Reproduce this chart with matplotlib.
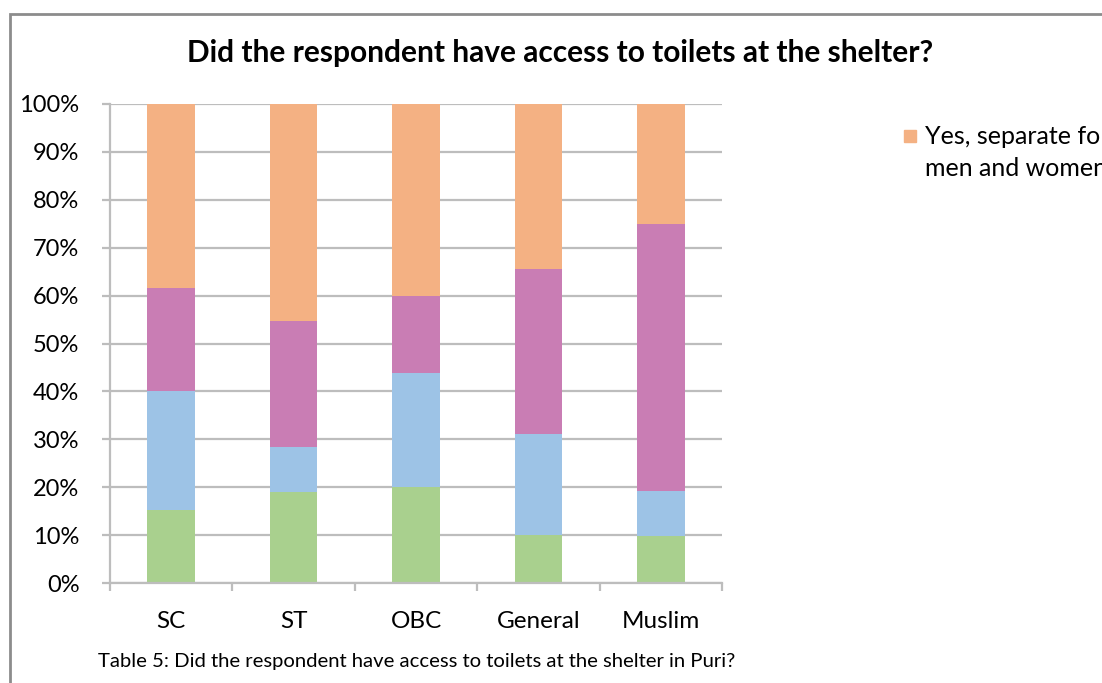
import matplotlib.pyplot as plt
import numpy as np
from matplotlib.patches import Rectangle

plt.rcParams['font.family'] = ['Lato', 'DejaVu Sans']

groepen = ['SC', 'ST', 'OBC', 'General', 'Muslim']
# shares per group, bottom to top (percent)
groen = [15.2, 19.0, 20.0, 10.0, 9.8]
blauw = [24.8, 9.4, 23.8, 21.1, 9.4]
paars = [21.6, 26.3, 16.1, 34.5, 55.8]
oranje = [38.4, 45.3, 40.1, 34.4, 25.0]
legend_label = 'Yes, separate for\nmen and women'

W, H = 1102, 683
fig = plt.figure(figsize=(W / 100, H / 100), dpi=100)
ax = fig.add_axes([110 / W, 1 - 583 / H, 612 / W, 479 / H])

x = np.arange(len(groepen))
breedte = 0.39
onder = np.zeros(len(groepen))
lagen = [(groen, '#a9d08e'), (blauw, '#9dc3e6'), (paars, '#c97db4'), (oranje, '#f4b183')]
for waarden, kleur in lagen:
    ax.bar(x, waarden, breedte, bottom=onder, color=kleur, zorder=2)
    onder += np.array(waarden)

ax.set_xlim(-0.5, len(groepen) - 0.5)
ax.set_ylim(0, 100)
ax.set_yticks(range(0, 101, 10))
ax.set_yticklabels([f'{v}%' for v in range(0, 101, 10)], fontsize=17)
ax.yaxis.grid(True, color='#bdbdbd', linewidth=1.6, zorder=0)
ax.tick_params(axis='y', length=6, width=1.6, color='#bdbdbd', pad=16)

ax.set_xticks(x)
ax.set_xticklabels(groepen, fontsize=17.5)
ax.set_xticks(np.arange(-0.5, len(groepen)), minor=True)
ax.tick_params(axis='x', which='major', length=0, pad=20)
ax.tick_params(axis='x', which='minor', length=6, width=1.6, color='#bdbdbd')

for kant in ['top', 'right']:
    ax.spines[kant].set_visible(False)
for kant in ['left', 'bottom']:
    ax.spines[kant].set_color('#bdbdbd')
    ax.spines[kant].set_linewidth(1.6)

fig.text(560 / W, 1 - 53 / H, 'Did the respondent have access to toilets at the shelter?',
         ha='center', va='center', fontsize=21.5, fontweight='bold')
fig.text(417 / W, 1 - 662 / H, 'Table 5: Did the respondent have access to toilets at the shelter in Puri?',
         ha='center', va='center', fontsize=14.6)

# legend entry (only the top series is listed)
fig.patches.append(Rectangle((904 / W, 1 - 142 / H), 12 / W, 12 / H,
                             transform=fig.transFigure, color='#f4b183'))
fig.text(925 / W, 1 - 125 / H, legend_label, ha='left', va='top', fontsize=18,
         linespacing=1.45)

# outer chart frame
fig.patches.append(Rectangle((10 / W, -0.1), 1.2, 1 - 14 / H + 0.1, transform=fig.transFigure,
                             fill=False, edgecolor='#8c8c8c', linewidth=2))

fig.savefig('out.png', dpi=100)
